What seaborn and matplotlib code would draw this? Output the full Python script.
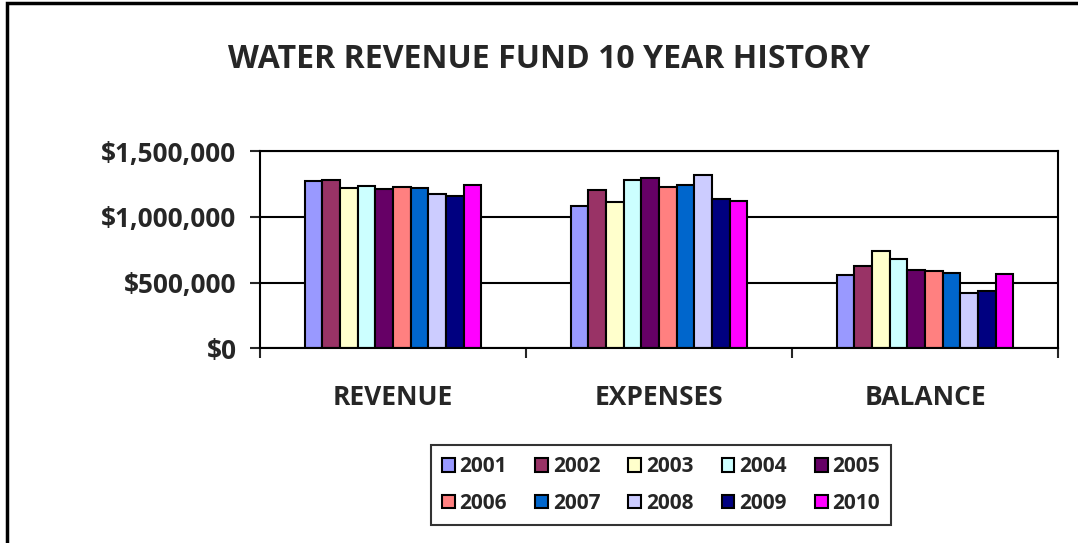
import pandas as pd
import numpy as np
import matplotlib
matplotlib.use('Agg')
import matplotlib.pyplot as plt
import seaborn as sns
from matplotlib.ticker import FuncFormatter
from matplotlib.patches import Rectangle

# --- dados ---
categorias = ['REVENUE', 'EXPENSES', 'BALANCE']
anos = ['2001', '2002', '2003', '2004', '2005', '2006', '2007', '2008', '2009', '2010']
receita = [1278000, 1286000, 1222000, 1240000, 1215000, 1230000, 1225000, 1172000, 1157000, 1248000]
despesas = [1081000, 1205000, 1114000, 1283000, 1298000, 1230000, 1242000, 1318000, 1134000, 1121000]
saldo = [557000, 629000, 738000, 679000, 593000, 591000, 573000, 420000, 438000, 563000]
cores = ['#9999FF', '#993366', '#FFFFCC', '#CCFFFF', '#660066',
         '#FF8080', '#0066CC', '#CCCCFF', '#000080', '#FF00FF']

df = pd.DataFrame({
    'categoria': np.repeat(categorias, len(anos)),
    'ano': anos * len(categorias),
    'valor': receita + despesas + saldo,
})

sns.set_style('white')
plt.rcParams['font.family'] = ['Open Sans', 'DejaVu Sans']
plt.rcParams['font.weight'] = 'bold'

fig = plt.figure(figsize=(10.78, 5.43), dpi=100)
ax = fig.add_axes([260 / 1078, 1 - 348 / 543, 798 / 1078, (348 - 151.5) / 543])

sns.barplot(data=df, x='categoria', y='valor', hue='ano', palette=cores,
            width=0.665, edgecolor='black', linewidth=1.5, ax=ax, legend=True,
            saturation=1)

ax.set_ylim(0, 1500000)
ax.set_xlim(-0.5, 2.5)
ax.set_yticks([0, 500000, 1000000, 1500000])
ax.yaxis.set_major_formatter(FuncFormatter(lambda v, p: f'${v:,.0f}'))
ax.yaxis.grid(True, color='black', linewidth=1.5)
ax.set_axisbelow(True)
for s in ax.spines.values():
    s.set_color('black')
    s.set_linewidth(1.5)
ax.tick_params(axis='y', which='major', direction='out', length=7, width=1.5,
               left=True, labelsize=18.8, pad=10)
ax.tick_params(axis='x', which='major', length=0, labelsize=19, pad=26)
ax.set_xticks([-0.5, 0.5, 1.5, 2.5], minor=True)
ax.tick_params(axis='x', which='minor', direction='out', length=7, width=1.5, bottom=True)
for t in ax.get_yticklabels() + ax.get_xticklabels():
    t.set_fontweight('bold')
ax.set_xlabel('')
ax.set_ylabel('')

# legenda preenchida por linhas, como no original
handles, labels = ax.get_legend_handles_labels()
ax.get_legend().remove()
ordem = [0, 5, 1, 6, 2, 7, 3, 8, 4, 9]
leg = fig.legend([handles[i] for i in ordem], [labels[i] for i in ordem],
                 ncol=5, loc='center',
                 bbox_to_anchor=(661 / 1078, 1 - 485 / 543),
                 frameon=True, fancybox=False, edgecolor='black',
                 prop={'weight': 'bold', 'size': 15},
                 handlelength=0.62, handleheight=0.62, handletextpad=0.22,
                 columnspacing=1.35, labelspacing=0.75, borderpad=0.55)
leg.get_frame().set_linewidth(1.5)

fig.suptitle('WATER REVENUE FUND 10 YEAR HISTORY', x=549 / 1078, y=1 - 60 / 543,
             fontsize=23, fontweight='bold', va='center')

# borda da área do gráfico
fig.patches.append(Rectangle((7 / 1078, -0.1), 1.2, 1 - 3 / 543 + 0.1,
                             transform=fig.transFigure, fill=False,
                             edgecolor='black', linewidth=2.5))

fig.savefig('out.png', dpi=100)
